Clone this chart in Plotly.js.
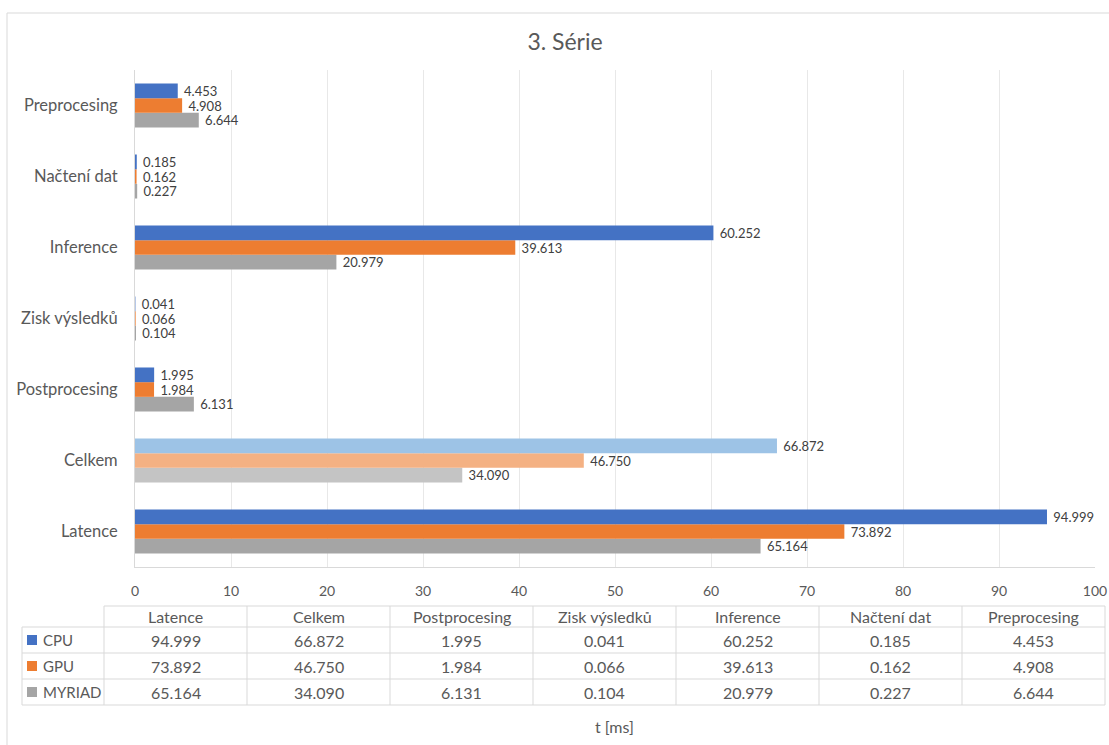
<!DOCTYPE html>
<html><head><meta charset="utf-8">
<script src="https://cdn.plot.ly/plotly-3.0.1.min.js"></script>
<style>html,body{margin:0;padding:0;background:#fff}#chart{width:1109px;height:745px}</style>
</head><body><div id="chart"></div>
<script>
// ---- data ----
const categories = ['Latence','Celkem','Postprocesing','Zisk výsledků','Inference','Načtení dat','Preprocesing'];
const seriesNames = ['CPU','GPU','MYRIAD'];
const cpu    = [94.999, 66.872, 1.995, 0.041, 60.252, 0.185, 4.453];
const gpu    = [73.892, 46.750, 1.984, 0.066, 39.613, 0.162, 4.908];
const myriad = [65.164, 34.090, 6.131, 0.104, 20.979, 0.227, 6.644];
const xTicks = [0,10,20,30,40,50,60,70,80,90,100];
const titleText = '3. Série';
const axisTitle = 't [ms]';

// ---- styles ----
const baseColors  = ['#4472C4','#ED7D31','#A5A5A5'];
const lightColors = ['#9DC3E6','#F4B183','#C4C4C4'];
const highlightCat = 'Celkem';
const FONT = 'Lato, "Open Sans", sans-serif';
const W = 1109, H = 745;
const L = 135, R = 1095, T = 70, B = 567;
const px = x => (x - L) / (R - L);
const py = y => (B - y) / (B - T);

const seriesVals = [cpu, gpu, myriad];
// plotly places first trace at the bottom of each group -> add in reverse
const traces = [];
for (let s = seriesVals.length - 1; s >= 0; s--) {
  traces.push({
    type: 'bar', orientation: 'h', name: seriesNames[s],
    y: categories, x: seriesVals[s],
    marker: { color: categories.map(c => c === highlightCat ? lightColors[s] : baseColors[s]), line: {width: 0} },
    texttemplate: '\u00a0%{x:.3f}', textposition: 'outside',
    textfont: { family: FONT, size: 13, color: '#404040' },
    constraintext: 'none', cliponaxis: false, hoverinfo: 'skip'
  });
}

// ---- data table ----
const shapes = [], annotations = [];
const lineC = '#d9d9d9';
const colX0 = 104, colW = 143, tblL = 22, tblR = colX0 + colW * categories.length;
const hdrTop = 606, rowYs = [627, 653, 679, 705];
function hline(x0, x1, y) { shapes.push({type:'line', xref:'paper', yref:'paper', x0:px(x0), x1:px(x1), y0:py(y), y1:py(y), line:{color:lineC, width:1}}); }
function vline(x, y0, y1) { shapes.push({type:'line', xref:'paper', yref:'paper', x0:px(x), x1:px(x), y0:py(y0), y1:py(y1), line:{color:lineC, width:1}}); }
hline(colX0, tblR, hdrTop);
rowYs.forEach(y => hline(tblL, tblR, y));
vline(tblL, rowYs[0], rowYs[3]);
for (let i = 0; i <= categories.length; i++) vline(colX0 + colW * i, hdrTop, rowYs[3]);

function txt(x, y, t, anchor, size, color) {
  annotations.push({xref:'paper', yref:'paper', x:px(x), y:py(y), text:t, showarrow:false,
    xanchor:anchor, yanchor:'middle', font:{family:FONT, size:size, color:color}});
}
categories.forEach((c, i) => txt(colX0 + colW * (i + 0.5), (hdrTop + rowYs[0]) / 2, c, 'center', 16, '#595959'));
seriesNames.forEach((n, s) => {
  const yc = (rowYs[s] + rowYs[s + 1]) / 2;
  shapes.push({type:'rect', xref:'paper', yref:'paper', x0:px(27), x1:px(37), y0:py(yc - 5), y1:py(yc + 5), fillcolor:baseColors[s], line:{width:0}});
  txt(41, yc, n, 'left', 15, '#595959');
  seriesVals[s].forEach((v, i) => txt(colX0 + colW * (i + 0.5), yc, v.toFixed(3), 'center', 16, '#595959'));
});
txt(614, 726, axisTitle, 'center', 16, '#595959');

// outer chart border
shapes.push({type:'rect', xref:'paper', yref:'paper', x0:px(7), x1:px(1120), y0:py(760), y1:py(13), line:{color:lineC, width:1}, fillcolor:'rgba(0,0,0,0)', layer:'below'});

const layout = {
  width: W, height: H,
  margin: {l: L, r: W - R, t: T, b: H - B, pad: 0},
  paper_bgcolor: '#fff', plot_bgcolor: '#fff',
  title: {text: titleText, xref:'container', yref:'container', x: 565 / W, y: 1 - 42 / H, xanchor:'center', yanchor:'middle',
          font: {family: FONT, size: 23, color: '#595959'}},
  showlegend: false,
  barmode: 'group', bargap: 0.38, bargroupgap: 0,
  xaxis: {range: [0, 100], tickvals: xTicks, ticktext: xTicks.map(String), showgrid: true, gridcolor: '#e8e8e8', gridwidth: 1,
          zeroline: false, showline: true, linecolor: lineC, ticks: '', ticklabelstandoff: 11,
          tickfont: {family: FONT, size: 14, color: '#595959'}, fixedrange: true},
  yaxis: {type: 'category', categoryorder: 'array', categoryarray: categories, showgrid: false, zeroline: false,
          showline: true, linecolor: lineC, ticks: '', ticklabelstandoff: 13,
          tickfont: {family: FONT, size: 16.5, color: '#595959'}, fixedrange: true},
  shapes: shapes, annotations: annotations
};
Plotly.newPlot('chart', traces, layout, {displayModeBar: false, staticPlot: true});
</script></body></html>
